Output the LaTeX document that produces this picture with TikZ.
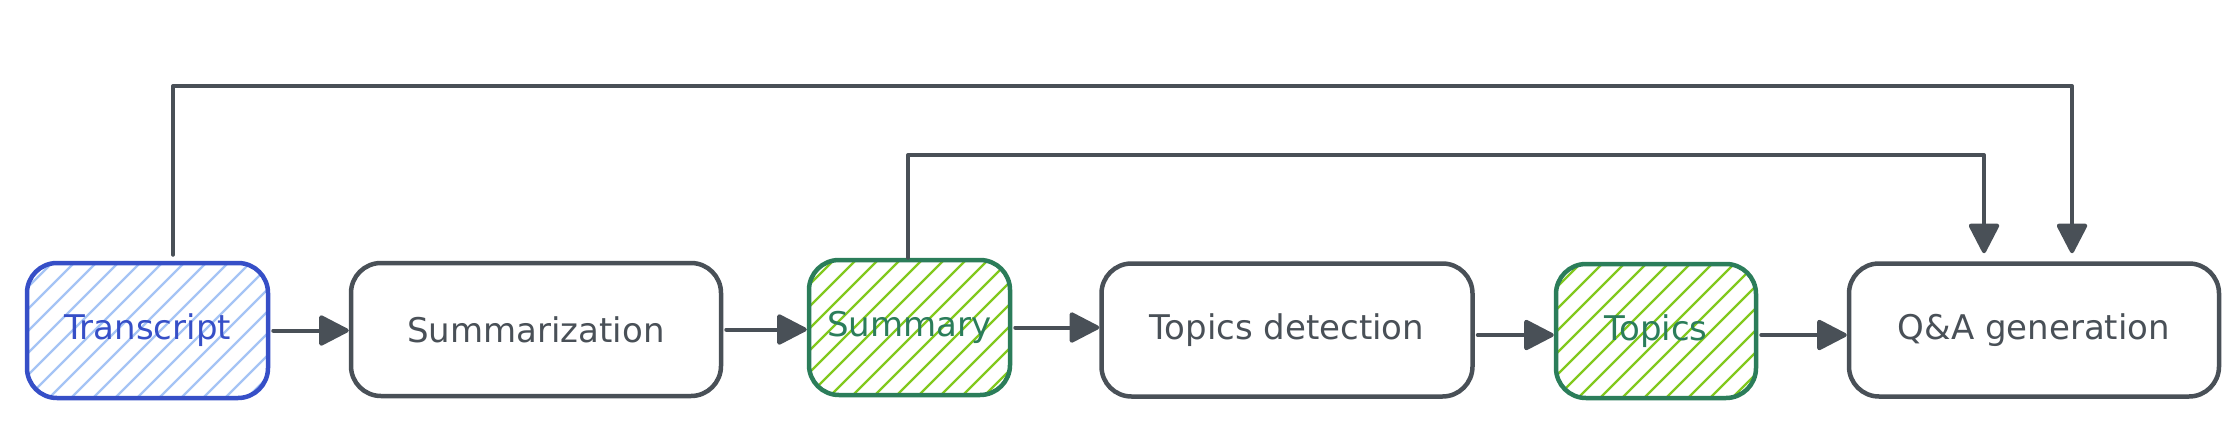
\documentclass[tikz,border=0pt]{standalone}
\usepackage{fontspec}
\newfontfamily\handfont{DejaVu Sans}
\usetikzlibrary{arrows.meta,calc}
\definecolor{inkgray}{HTML}{495057}
\definecolor{inkblue}{HTML}{364FC7}
\definecolor{hatchblue}{HTML}{A5C4F5}
\definecolor{inkgreen}{HTML}{2B7D5A}
\definecolor{hatchgreen}{HTML}{82C91E}
\tikzset{
  hatched/.style={path picture={
      \foreach \k in {-9,...,13}{
        \draw[#1, line width=2.2pt]
          ($(path picture bounding box.south west)+(\k*22pt,0pt)$) -- ++(200pt,200pt);
      }}},
  box/.style={draw=inkgray, line width=4.5pt, rounded corners=30pt, text=inkgray,
    font=\handfont\fontsize{34}{40}\selectfont, inner sep=0pt, align=center},
  bluebox/.style={box, draw=inkblue, text=inkblue, hatched=hatchblue},
  greenbox/.style={box, draw=inkgreen, text=inkgreen, hatched=hatchgreen},
  conn/.style={draw=inkgray, line width=4pt, line cap=round, line join=round,
    -{Triangle[length=32pt,width=32pt,round]}}
}
\begin{document}
\begin{tikzpicture}[x=1pt,y=-1pt]
\useasboundingbox (0,0) rectangle (2238,444);
\node[bluebox, minimum width=241pt, minimum height=135pt] (t) at (147.5,330.5) {Transcript};
\node[box, minimum width=370pt, minimum height=133pt] (sz) at (536,329.5) {Summarization};
\node[greenbox, minimum width=201pt, minimum height=135pt] (su) at (909.5,327.5) {Summary};
\node[box, minimum width=371pt, minimum height=133pt] (td) at (1287,330) {Topics detection};
\node[greenbox, minimum width=200pt, minimum height=134pt] (tp) at (1656,331) {Topics};
\node[box, minimum width=370pt, minimum height=133pt] (qa) at (2034,330) {Q\&A generation};

\draw[conn, shorten <=3pt] (t.east) -- (t.east -| sz.west);
\draw[conn, shorten <=3pt] (sz.east) -- (sz.east -| su.west);
\draw[conn, shorten <=3pt] (su.east) -- (su.east -| td.west);
\draw[conn, shorten <=3pt] ([yshift=-5pt]td.east) -- ([yshift=-5pt]td.east -| tp.west);
\draw[conn, shorten <=3pt] ([yshift=-4pt]tp.east) -- ([yshift=-4pt]tp.east -| qa.west);

\coordinate (k1) at (2072,86);
\draw[conn, shorten <=6pt, shorten >=8pt] ([xshift=25.5pt]t.north) |- (k1) -- (k1 |- qa.north);
\coordinate (k2) at (1984,155);
\draw[conn, shorten >=8pt] ([xshift=-1.5pt]su.north) |- (k2) -- (k2 |- qa.north);
\end{tikzpicture}
\end{document}
